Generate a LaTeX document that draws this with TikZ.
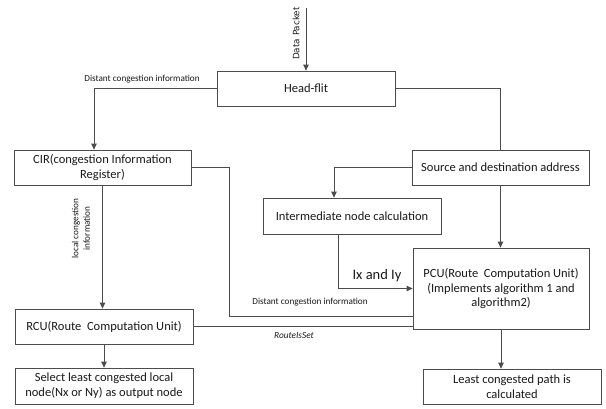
\documentclass[tikz,border=0pt]{standalone}
\usepackage{fontspec}
\setmainfont{Carlito}
\newfontfamily\dvsans{DejaVu Sans}
\usetikzlibrary{arrows.meta,positioning,calc}
\begin{document}
\begin{tikzpicture}[x=1pt,y=-1pt,
  box/.style={draw=black!70,line width=0.8pt,rectangle,align=center,inner sep=1pt,font=\fontsize{12.5}{14.8}\selectfont,text=black!90},
  conn/.style={draw=black!70,line width=0.8pt},
  arr/.style={conn,-{Triangle[width=5.5pt,length=6pt]}},
  lbl/.style={font=\fontsize{9.2}{10.5}\selectfont,text=black!90,inner sep=0pt,align=center}]
\useasboundingbox (0,0) rectangle (606,408);
% nodes
\node[box,minimum width=178pt,minimum height=35pt] (head) at (306,88.5) {Head-flit};
\node[box,minimum width=177pt,minimum height=35pt] (cir) at (102.5,167.5) {CIR(congestion Information\\Register)};
\node[box,minimum width=177pt,minimum height=35pt] (src) at (500.5,167.5) {Source and destination address};
\node[box,minimum width=178pt,minimum height=36pt] (inter) at (352,216) {Intermediate node calculation};
\node[box,minimum width=176pt,minimum height=81pt] (pcu) at (501,288.5) {PCU(Route\ \ Computation Unit)\\(Implements algorithm 1 and\\algorithm2)};
\node[box,minimum width=178pt,minimum height=35pt] (rcu) at (104,326.5) {RCU(Route\ \ Computation Unit)};
\node[box,minimum width=178pt,minimum height=36pt] (sel) at (104,386) {Select least congested local\\node(Nx or Ny) as output node};
\node[box,minimum width=178pt,minimum height=35pt] (least) at (512,386.5) {Least congested path is\\calculated};
\coordinate (dp) at (306,8);
% connectors
\draw[arr] (dp) -- (head.north);
\node[lbl,rotate=90,font=\fontsize{8.8}{10}\dvsans] (dplbl) at (296,33.5) {Data Packet};
\draw[arr] (head.west) -| ([xshift=-8.5pt]cir.north);
\node[lbl] (dci1) at (142,79) {Distant congestion information};
\draw[conn] (head.east) -| (src.north);
\draw[conn] (cir.east) -- ++(38,0) |- ([yshift=-27.5pt]pcu.west);
\node[lbl] (dci2) at (310,302) {Distant congestion information};
\draw[arr] (cir.south) -- (cir.south |- rcu.north);
\node[lbl,rotate=90,font=\fontsize{9.2}{11.5}\selectfont] (lci) at (81,228.5) {local congestion\\information};
\draw[arr] (src.west) -| ([xshift=-18pt]inter.north);
\draw[arr] (src.south) -- (src.south |- pcu.north);
\draw[arr] ([xshift=-14pt]inter.south) |- (pcu.west);
\node[lbl,font=\fontsize{14.5}{16}\selectfont] (ixy) at (377,276) {Ix and Iy};
\draw[conn] (rcu.east) -- (rcu.east -| pcu.west);
\node[lbl,font=\fontsize{9.3}{10.5}\itshape] (ris) at (294,336) {RouteIsSet};
\draw[arr] (rcu.south) -- (sel.north);
\draw[arr] (pcu.south) -- (pcu.south |- least.north);
\end{tikzpicture}
\end{document}
